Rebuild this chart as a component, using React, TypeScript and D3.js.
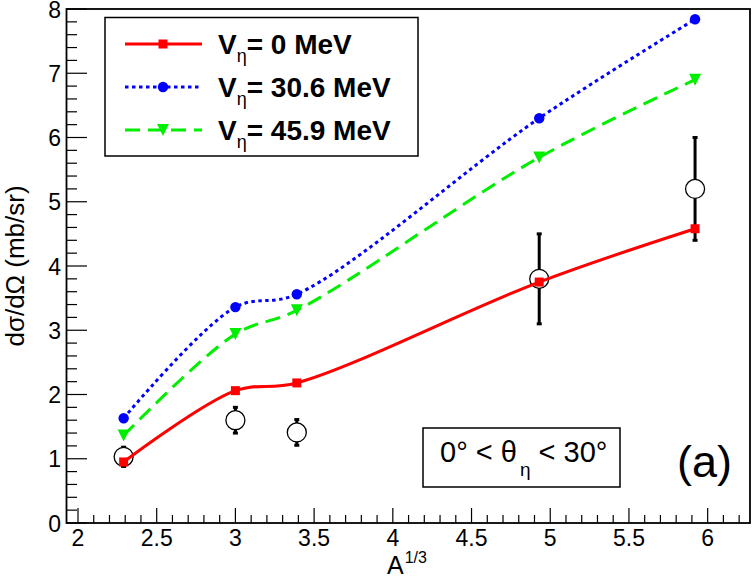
import React from 'react';
import * as d3 from 'd3';

// A^{1/3} of the targets
const xs = [2.29, 3.0, 3.39, 4.93, 5.92];
// model curves, dσ/dΩ in mb/sr
const v0 = [0.95, 2.06, 2.18, 3.75, 4.58];
const v306 = [1.63, 3.36, 3.56, 6.3, 7.84];
const v459 = [1.36, 2.94, 3.31, 5.69, 6.9];
// measured points
const expY = [1.03, 1.6, 1.41, 3.8, 5.2];
const expErr = [0.15, 0.2, 0.2, 0.7, 0.8];

const xMajor = [2, 2.5, 3, 3.5, 4, 4.5, 5, 5.5, 6];
const yMajor = [0, 1, 2, 3, 4, 5, 6, 7, 8];

const W = 753;
const H = 576;
const FONT = '"Liberation Sans", Arial, Helvetica, sans-serif';

const x = d3.scaleLinear().domain([1.927, 6.269]).range([66.5, 750]);
const y = d3.scaleLinear().domain([0, 8]).range([523, 9]);

const xMinor = d3.range(20, 63).map(d => d / 10).filter(d => !xMajor.some(m => Math.abs(m - d) < 1e-6));
const yMinor = d3.range(0, 41).map(d => d / 5).filter(d => !yMajor.some(m => Math.abs(m - d) < 1e-6));

const curve = d3.line<number>()
  .x((_, i) => x(xs[i]))
  .y(d => y(d))
  .curve(d3.curveCatmullRom.alpha(0.5));

const series = [
  { name: '0', vals: v0, color: '#ff0000', dash: undefined as string | undefined, marker: 'square' },
  { name: '30.6', vals: v306, color: '#0000ff', dash: '3.5 3.5', marker: 'circle' },
  { name: '45.9', vals: v459, color: '#00ee00', dash: '15 8', marker: 'tri' },
];

const Marker = ({ kind, cx, cy, color }: { kind: string; cx: number; cy: number; color: string }) => {
  if (kind === 'square') return <rect x={cx - 4.5} y={cy - 4.5} width={9} height={9} fill={color} />;
  if (kind === 'circle') return <circle cx={cx} cy={cy} r={5.2} fill={color} />;
  return <path d={`M${cx - 6},${cy - 6} L${cx + 6},${cy - 6} L${cx},${cy + 6} Z`} fill={color} />;
};

export default function App() {
  const legendRows = [44, 87, 130];
  return (
    <svg width={W} height={H} style={{ position: 'absolute', left: 0, top: 0, background: '#fff' }} fontFamily={FONT}>
      <rect x={0} y={0} width={W} height={H} fill="#fff" />

      {/* ticks */}
      <g stroke="#000" strokeWidth={1.2}>
        {xMajor.map(t => <line key={'xm' + t} x1={x(t)} x2={x(t)} y1={523} y2={508} />)}
        {xMinor.map(t => <line key={'xn' + t} x1={x(t)} x2={x(t)} y1={523} y2={515} />)}
        {yMajor.map(t => <line key={'ym' + t} x1={66.5} x2={87} y1={y(t)} y2={y(t)} />)}
        {yMinor.map(t => <line key={'yn' + t} x1={66.5} x2={77} y1={y(t)} y2={y(t)} />)}
      </g>

      {/* tick labels */}
      <g fontSize={23} fill="#000">
        {xMajor.map(t => (
          <text key={'xl' + t} x={x(t)} y={546} textAnchor="middle">{String(t)}</text>
        ))}
        {yMajor.map(t => (
          <text key={'yl' + t} x={61} y={y(t) + 8.5} textAnchor="end">{String(t)}</text>
        ))}
      </g>

      {/* axis titles */}
      <text x={387} y={574} fontSize={25}>
        A<tspan fontSize={16} dy={-11} dx={1}>1/3</tspan>
      </text>
      <text transform="translate(24,266) rotate(-90)" textAnchor="middle" fontSize={26}>
        dσ/dΩ (mb/sr)
      </text>

      {/* measured points */}
      <g>
        {xs.map((xv, i) => (
          <g key={'e' + i}>
            <line x1={x(xv)} x2={x(xv)} y1={y(expY[i] - expErr[i])} y2={y(expY[i] + expErr[i])} stroke="#000" strokeWidth={3} />
            <rect x={x(xv) - 2.5} y={y(expY[i] + expErr[i]) - 1.5} width={5} height={3} fill="#000" />
            <rect x={x(xv) - 2.5} y={y(expY[i] - expErr[i]) - 1.5} width={5} height={3} fill="#000" />
            <circle cx={x(xv)} cy={y(expY[i])} r={9.5} fill="#fff" stroke="#000" strokeWidth={1.3} />
          </g>
        ))}
      </g>

      {/* model curves */}
      {series.map(s => (
        <g key={s.name}>
          <path d={curve(s.vals) || ''} fill="none" stroke={s.color} strokeWidth={3} strokeDasharray={s.dash} />
          {s.vals.map((v, i) => (
            <Marker key={i} kind={s.marker} cx={x(xs[i])} cy={y(v)} color={s.color} />
          ))}
        </g>
      ))}

      {/* frame */}
      <rect x={66.5} y={9} width={750 - 66.5} height={523 - 9} fill="none" stroke="#000" strokeWidth={1.8} />

      {/* legend */}
      <rect x={105} y={17.5} width={313} height={138.5} fill="#fff" stroke="#000" strokeWidth={1.5} />
      {series.map((s, i) => (
        <g key={'lg' + s.name}>
          <line x1={125} x2={202} y1={legendRows[i]} y2={legendRows[i]} stroke={s.color} strokeWidth={3} strokeDasharray={s.dash} />
          <Marker kind={s.marker} cx={163} cy={legendRows[i]} color={s.color} />
          <text x={218} y={legendRows[i] + 10} fontSize={28} fontWeight="bold">
            V<tspan fontSize={18} fontWeight="normal" dy={8}>η</tspan>
            <tspan dy={-8}>= {s.name} MeV</tspan>
          </text>
        </g>
      ))}

      {/* angle box */}
      <rect x={423} y={428} width={197} height={59} fill="#fff" stroke="#000" strokeWidth={1.5} />
      <text x={440} y={462} fontSize={29}>
        0° &lt; θ<tspan fontSize={19} dy={14} dx={3}>η</tspan><tspan dy={-14}> &lt; 30°</tspan>
      </text>
      <text x={677} y={477} fontSize={45}>(a)</text>
    </svg>
  );
}
